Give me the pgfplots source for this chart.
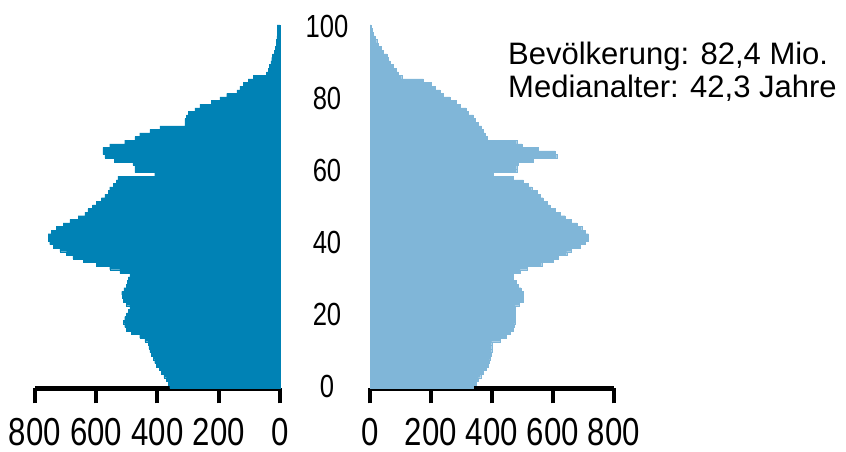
\documentclass[border=0pt]{standalone}
\usepackage{fontspec}
\setmainfont{Liberation Sans}
\newfontfamily\narrowsans[FakeStretch=0.8]{Liberation Sans}
\usepackage{pgfplots}
\usepackage{pgfplotstable}
\pgfplotsset{compat=1.18}
\definecolor{male}{HTML}{0082B5}
\definecolor{female}{HTML}{80B6D8}

% age, men (left), women (right), in thousands
\pgfplotstableread{
age m f
0 360 339
1 365 347
2 371 355
3 379 363
4 387 372
5 395 380
6 403 388
7 409 391
8 414 394
9 420 397
10 425 399
11 428 399
12 431 399
13 441 427
14 458 448
15 485 460
16 501 470
17 507 473
18 512 476
19 507 476
20 501 476
21 495 476
22 490 476
23 501 490
24 512 503
25 515 503
26 517 503
27 510 495
28 501 487
29 498 478
30 496 470
31 490 470
32 523 492
33 556 514
34 600 563
35 643 601
36 676 618
37 697 645
38 719 661
39 741 689
40 752 705
41 757 716
42 757 716
43 746 705
44 730 694
45 708 678
46 686 661
47 659 640
48 637 623
49 627 607
50 612 590
51 600 580
52 583 568
53 572 558
54 561 547
55 556 530
56 545 519
57 534 503
58 529 470
59 409 404
60 474 481
61 474 481
62 480 487
63 540 536
64 572 612
65 578 607
66 578 552
67 556 498
68 507 481
69 474 383
70 458 377
71 425 372
72 392 366
73 311 355
74 311 344
75 305 339
76 300 322
77 278 315
78 262 295
79 224 284
80 196 262
81 174 240
82 141 230
83 131 213
84 120 202
85 104 175
86 87 104
87 44 93
88 39 87
89 35 77
90 30 66
91 27 60
92 24 55
93 19 44
94 16 38
95 13 27
96 11 22
97 10 16
98 9 11
99 9 6
100 9 3
}\pyramid

\pgfplotsset{
  pyr/.style={
    scale only axis,
    width=245pt, height=363.5pt,
    xmin=0, xmax=800, ymin=-0.5, ymax=100.5,
    xtick={0,200,400,600,800},
    axis x line*=bottom,
    x axis line style={line width=5pt},
    xtick style={line width=4pt, black},
    tick align=outside,
    major tick length=15pt,
    /pgf/number format/assume math mode=true,
    xticklabel style={font=\narrowsans\fontsize{39}{39}\selectfont,
      anchor=base, yshift=-41.5pt},
    clip=false,
  },
}

\begin{document}
\begin{tikzpicture}
\path[use as bounding box] (0,0) rectangle (846pt,452pt);

% men
\begin{axis}[pyr,
  at={(35pt,63.5pt)}, anchor=south west,
  x dir=reverse,
  axis y line*=right,
  y axis line style={draw=none},
  ytick={0,20,...,100},
  ytick style={draw=none},
  yticklabel style={font=\narrowsans\fontsize{32}{32}\selectfont,
    anchor=center, xshift=32pt},
]
\addplot[xbar, bar width=1, fill=male, draw=male, line width=0.3pt]
  table[x=m, y=age] {\pyramid};
\end{axis}

% women
\begin{axis}[pyr,
  at={(370pt,63.5pt)}, anchor=south west,
  width=244pt,
  axis y line=none,
]
\addplot[xbar, bar width=1, fill=female, draw=female, line width=0.3pt]
  table[x=f, y=age] {\pyramid};
\end{axis}

\node[anchor=base west, font=\fontsize{31}{31}\selectfont, inner sep=0pt]
  at (508pt,387pt) {Bevölkerung: 82,4 Mio.};
\node[anchor=base west, font=\fontsize{31}{31}\selectfont, inner sep=0pt]
  at (508pt,354pt) {Medianalter: 42,3 Jahre};
\end{tikzpicture}
\end{document}
